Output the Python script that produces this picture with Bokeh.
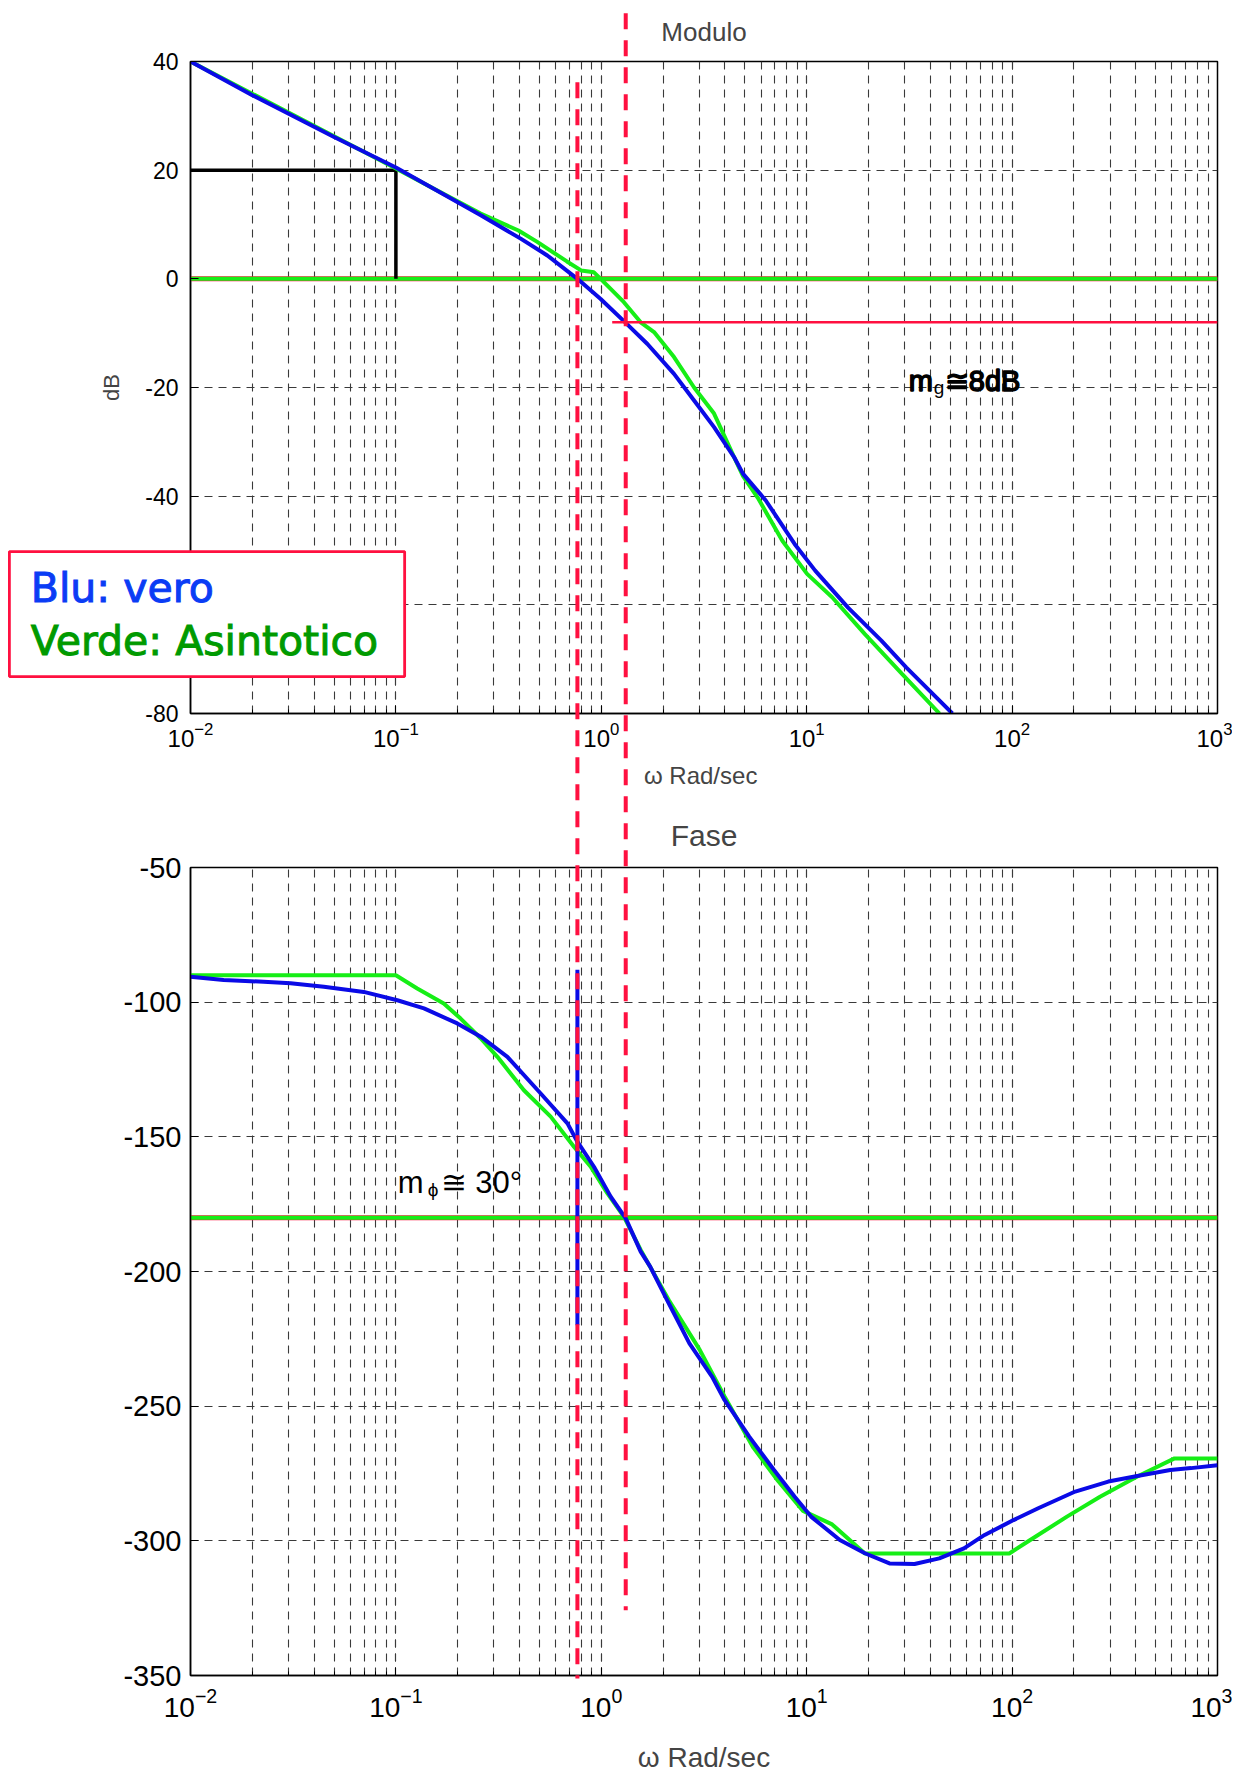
import math
from bokeh.plotting import figure
from bokeh.layouts import column
from bokeh.models import (Range1d, SingleIntervalTicker, Label, GridBox,
                          CustomJSTickFormatter)
from bokeh.embed import file_html
from bokeh.resources import INLINE

# ---------------- data ----------------
# Modulo: true curve (blue)
w_mag_true = [0.01, 0.02, 0.05, 0.1, 0.259, 0.405, 0.546, 0.765, 0.993, 1.315, 1.677,
              2.26, 2.83, 3.54, 4.43, 4.9, 6.32, 8.73, 11.0, 15.9, 23.1, 30.5, 51.2]
db_true = [40, 33.8, 26.1, 20.5, 11.7, 7.4, 4.3, 0.0, -3.7, -8.1, -12.0,
           -17.5, -22.4, -27.3, -32.8, -35.9, -40.8, -48.8, -53.7, -60.5, -66.6, -71.5, -80.0]
# Modulo: asymptotic curve (green)
w_mag_asym = [0.01, 0.1, 0.2586, 0.395, 0.4877, 0.68, 0.797, 0.921, 0.993, 1.288, 1.555,
              1.806, 2.26, 2.83, 3.54, 4.43, 4.9, 5.78, 7.61, 10.04, 13.3, 19.2, 29.1, 44.3]
db_asym = [40, 20.3, 12.0, 8.9, 6.8, 3.2, 1.55, 1.2, 0.0, -4.3, -8.0,
           -9.8, -14.4, -20.0, -24.8, -32.8, -36.3, -40.3, -48.2, -54.3, -58.6, -65.4, -72.7, -80.0]
# Fase: true curve (blue)
w_ph_true = [0.01, 0.0145, 0.0227, 0.0307, 0.0446, 0.0698, 0.1016, 0.137, 0.199, 0.259, 0.349,
             0.507, 0.684, 0.765, 0.921, 1.111, 1.315, 1.555, 1.73, 2.13, 2.685, 3.465, 3.98,
             5.25, 6.93, 8.74, 10.5, 14.5, 19.2, 25.3, 33.5, 44.2, 58.3, 73.5, 101.6, 134,
             203, 294, 407, 589, 743, 1000]
ph_true = [-90.6, -91.8, -92.4, -93.0, -94.3, -96.2, -99.3, -102.3, -107.9, -112.8, -120.3,
           -133.9, -145.0, -151.8, -161.1, -172.2, -180.3, -192.6, -198.2, -211.8, -226.7, -239.1, -247.7,
           -261.3, -273.7, -283.6, -291.0, -299.7, -304.6, -308.4, -308.6, -306.5, -302.8, -297.8, -292.3, -287.9,
           -281.7, -278.0, -275.9, -273.7, -273.0, -271.9]
# Fase: asymptotic curve (green)
w_ph_asym = [0.01, 0.1, 0.127, 0.171, 0.2066, 0.259, 0.312, 0.42, 0.567, 0.736, 0.888, 1.071,
             1.29, 1.555, 2.13, 3.02, 3.98, 5.5, 7.26, 9.6, 13.3, 19.2, 96.9, 122, 185, 268,
             407, 618, 1000]
ph_asym = [-90, -90, -94.9, -100.5, -106.1, -113.5, -120.3, -132.7, -142.5, -153.7, -161.1, -171.0,
           -179.7, -192.0, -210.6, -229.2, -246.4, -265.4, -277.8, -288.9, -293.9, -304.7, -304.7, -299.8,
           -291.0, -283.6, -276.1, -269.4, -269.4]

# reference values
w_range = [0.01, 1000]
db_range = [-80, 40]
ph_range = [-350, -50]
w_c = 0.765          # 0 dB crossing
w_pi = 1.315         # -180 deg crossing
zero_db = [0, 0]
gm_w = [1.13, 1000]
gm_db = [-8, -8]
ph_180 = [-180, -180]
k_w = [0.01, 0.1, 0.1]     # black marker |G(0.1)| = 20 dB
k_db = [20, 20, 0]
pm_bar = [-88, -220]       # blue bar at w_c on the phase plot
wc_line_top_db, wc_line_bottom_ph = 36.2, -352.2
wpi_line_top_db, wpi_line_bottom_ph = 48.9, -326.9

# ---------------- layout constants (pixels) ----------------
LEFT, RIGHT, FRAME_W = 190, 15, 1027
TOP1, FRAME_H1, BOTTOM1 = 61, 652, 87
TOP2, FRAME_H2, BOTTOM2 = 64, 808, 95
H1 = TOP1 + FRAME_H1 + BOTTOM1
H2 = TOP2 + FRAME_H2 + BOTTOM2
W = LEFT + FRAME_W + RIGHT

FONT = "Liberation Sans"
BLUE = "#0a0ae6"
GREEN = "#16ee16"
RED = "#ff1040"
GRID = "#3a3a3a"

hyphen_fmt = CustomJSTickFormatter(code="return tick.toFixed(0);")


def style(p, ytick_size, xtick_size, interval):
    p.background_fill_color = "white"
    p.border_fill_color = "white"
    p.outline_line_color = "black"
    p.outline_line_width = 1.5
    p.outline_line_alpha = 1
    p.title.text_font = FONT
    p.title.text_font_style = "normal"
    p.title.align = "center"
    for ax in p.axis:
        ax.axis_line_width = 1.5
        ax.axis_line_color = "black"
        ax.major_tick_in = 8
        ax.major_tick_out = 0
        ax.minor_tick_in = 4
        ax.minor_tick_out = 0
        ax.major_label_text_font = FONT
        ax.axis_label_text_font = FONT
        ax.axis_label_text_font_style = "normal"
        ax.major_label_text_color = "black"
    p.yaxis.ticker = SingleIntervalTicker(interval=interval, num_minor_ticks=0)
    p.yaxis.formatter = hyphen_fmt
    p.yaxis.minor_tick_line_color = None
    p.yaxis.major_label_text_font_size = ytick_size
    p.xaxis.major_label_text_font_size = xtick_size
    p.xgrid.grid_line_color = GRID
    p.xgrid.grid_line_dash = "8 6"
    p.xgrid.grid_line_width = 1.1
    p.xgrid.minor_grid_line_color = GRID
    p.xgrid.minor_grid_line_dash = "8 6"
    p.xgrid.minor_grid_line_width = 1.1
    p.ygrid.grid_line_color = GRID
    p.ygrid.grid_line_dash = "8 6"
    p.ygrid.grid_line_width = 1.1


# ---------------- Modulo ----------------
p1 = figure(x_axis_type="log", x_range=Range1d(*w_range), y_range=Range1d(*db_range),
            frame_width=FRAME_W, frame_height=FRAME_H1,
            min_border_left=LEFT, min_border_right=RIGHT, min_border_top=TOP1,
            min_border_bottom=BOTTOM1,
            output_backend="svg", toolbar_location=None, title="Modulo")
style(p1, "23px", "24px", 20)
p1.title.text_font_size = "26px"
p1.title.standoff = 29
p1.yaxis.axis_label = "dB"
p1.yaxis.axis_label_text_font_size = "22px"
p1.yaxis.axis_label_standoff = 18
p1.yaxis.major_label_standoff = 12
p1.xaxis.axis_label = "\u03c9  Rad/sec"
p1.xaxis.axis_label_text_font_size = "24px"
p1.xaxis.axis_label_standoff = 12
p1.xaxis.major_label_standoff = 8

p1.line(w_range, zero_db, line_color=RED, line_width=5)
p1.line(w_range, zero_db, line_color=GREEN, line_width=4)
p1.line(k_w, k_db, line_color="black", line_width=3.5)
p1.line(w_mag_asym, db_asym, line_color=GREEN, line_width=4)
p1.line(w_mag_true, db_true, line_color=BLUE, line_width=4)
p1.line(gm_w, gm_db, line_color=RED, line_width=2.5)

# m_g annotation
MG_W, MG_DB = 31.4, -18.8
p1.add_layout(Label(x=MG_W, y=MG_DB, text="m", text_font=FONT, text_font_size="29px",
                    text_color="black", text_outline_color="black", text_baseline="alphabetic"))
p1.add_layout(Label(x=MG_W, y=MG_DB, x_offset=25, y_offset=-7, text="g", text_font=FONT,
                    text_font_size="19px", text_color="black", text_baseline="alphabetic"))
p1.add_layout(Label(x=MG_W, y=MG_DB, x_offset=36, text="\u22458dB", text_font=FONT,
                    text_font_size="29px", text_color="black", text_outline_color="black",
                    text_baseline="alphabetic"))

# ---------------- Fase ----------------
p2 = figure(x_axis_type="log", x_range=Range1d(*w_range), y_range=Range1d(*ph_range),
            frame_width=FRAME_W, frame_height=FRAME_H2,
            min_border_left=LEFT, min_border_right=RIGHT, min_border_top=TOP2,
            min_border_bottom=BOTTOM2,
            output_backend="svg", toolbar_location=None, title="Fase")
style(p2, "29px", "28px", 50)
p2.title.text_font_size = "30px"
p2.title.standoff = 32
p2.yaxis.major_label_standoff = 9
p2.xaxis.axis_label = "\u03c9 Rad/sec"
p2.xaxis.axis_label_text_font_size = "28px"
p2.xaxis.axis_label_standoff = 22
p2.xaxis.major_label_standoff = 12

p2.line(w_range, ph_180, line_color=RED, line_width=5)
p2.line(w_range, ph_180, line_color=GREEN, line_width=4)
p2.line(w_ph_asym, ph_asym, line_color=GREEN, line_width=4)
p2.line(w_ph_true, ph_true, line_color=BLUE, line_width=4)
p2.line([w_c, w_c], pm_bar, line_color=BLUE, line_width=4)

MP_W, MP_PH = 0.102, -166.8
p2.add_layout(Label(x=MP_W, y=MP_PH, text="m", text_font=FONT, text_font_size="31px",
                    text_color="black", text_baseline="alphabetic"))
p2.add_layout(Label(x=MP_W, y=MP_PH, x_offset=30, y_offset=-7, text="\u03d5", text_font=FONT,
                    text_font_size="19px", text_color="black", text_baseline="alphabetic"))
p2.add_layout(Label(x=MP_W, y=MP_PH, x_offset=43, text="\u2245 30\u00b0", text_font=FONT,
                    text_font_size="31px", text_color="black", text_baseline="alphabetic"))

# ---------------- overlay (lines and legend that cross both panels) ----------------
DEC = FRAME_W / 5.0                       # pixels per decade
PX_DB = FRAME_H1 / float(db_range[1] - db_range[0])
PX_DEG = FRAME_H2 / float(ph_range[1] - ph_range[0])
ov_x = Range1d(10 ** (math.log10(w_range[0]) - LEFT / DEC),
               10 ** (math.log10(w_range[1]) + RIGHT / DEC))
ov_y = Range1d(db_range[1] - (H1 + H2 - TOP1) / PX_DB, db_range[1] + TOP1 / PX_DB)


def phase_as_db(ph):
    """Express a phase value of the lower panel in the overlay's dB coordinates."""
    cy = H1 + TOP2 + (ph_range[1] - ph) * PX_DEG
    return db_range[1] - (cy - TOP1) / PX_DB


ov = figure(x_axis_type="log", x_range=ov_x, y_range=ov_y, width=W, height=H1 + H2,
            min_border=0, x_axis_location=None, y_axis_location=None,
            output_backend="svg", toolbar_location=None)
ov.grid.visible = False
ov.outline_line_color = None
ov.background_fill_color = None
ov.border_fill_color = None

ov.line([w_c, w_c], [wc_line_top_db, phase_as_db(wc_line_bottom_ph)],
        line_color=RED, line_width=4, line_dash="16 11")
ov.line([w_pi, w_pi], [wpi_line_top_db, phase_as_db(wpi_line_bottom_ph)],
        line_color=RED, line_width=4, line_dash="16 11")

# legend box
ov.quad(left=[0.001313], right=[0.1103], top=[-50.2], bottom=[-73.2],
        fill_color="white", fill_alpha=1.0, line_color=RED, line_width=2.8)
ov.add_layout(Label(x=0.00167, y=-56.9, text="Blu: vero", text_font="DejaVu Sans",
                    text_font_size="41px", text_color="#0a3cf5", text_outline_color="#0a3cf5",
                    text_baseline="alphabetic"))
ov.add_layout(Label(x=0.00167, y=-66.6, text="Verde: Asintotico", text_font="DejaVu Sans",
                    text_font_size="41px", text_color="#009a00", text_outline_color="#009a00",
                    text_baseline="alphabetic"))

plots = column(p1, p2, spacing=0)
layout = GridBox(children=[(plots, 0, 0), (ov, 0, 0)], spacing=0)
open("out.html", "w").write(file_html(layout, INLINE))
